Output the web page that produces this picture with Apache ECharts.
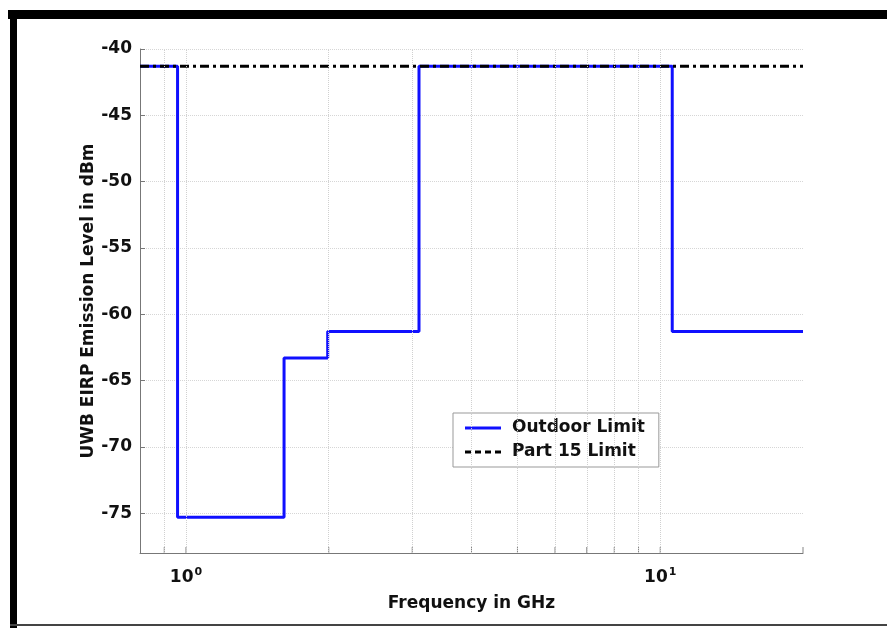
<!DOCTYPE html>
<html>
<head>
<meta charset="utf-8">
<script src="https://cdn.jsdelivr.net/npm/echarts@6/dist/echarts.min.js"></script>
<style>
  html, body { margin: 0; padding: 0; background: #fff; }
  #chart { width: 887px; height: 628px; }
</style>
</head>
<body>
<div id="chart"></div>
<script>
// step edges (GHz) and level of each band (dBm)
const bandEdges = [0.8, 0.96, 1.61, 1.99, 3.1, 10.6, 20]
const outdoorLevels = [-41.3, -75.3, -63.3, -61.3, -41.3, -61.3]
const part15Freq = [0.8, 20]
const part15Level = [-41.3, -41.3]
// log grid positions
const xGridFreqs = [0.9, 1, 2, 3, 4, 5, 6, 7, 8, 9, 10]
const xTickFreqs = [0.9, 1, 2, 3, 4, 5, 6, 7, 8, 9, 10, 20]
const yMin = -78
const yMax = -40

const outdoorData = bandEdges.map((f, i) => [f, outdoorLevels[Math.min(i, outdoorLevels.length - 1)]])
const part15Data = part15Freq.map((f, i) => [f, part15Level[i]])

const FONT = 'DejaVu Sans, Liberation Sans, sans-serif'
const BLUE = '#1010ff'

var chart = echarts.init(document.getElementById('chart'))
var option = {
  animation: false,
  backgroundColor: '#fff',
  textStyle: { fontFamily: FONT },
  grid: { left: 140, right: 84, top: 49, bottom: 75 },
  graphic: [
    { type: 'rect', shape: { x: 8, y: 10, width: 879, height: 9 }, style: { fill: '#000' } },
    { type: 'rect', shape: { x: 10, y: 10, width: 7, height: 618 }, style: { fill: '#000' } },
    { type: 'rect', shape: { x: 10, y: 624, width: 877, height: 2 }, style: { fill: '#444' } }
  ],
  legend: {
    orient: 'vertical',
    left: 453, top: 413,
    padding: [5, 14, 5, 12],
    itemGap: 4,
    itemWidth: 36, itemHeight: 3,
    borderColor: '#999', borderWidth: 1,
    backgroundColor: '#fff',
    data: [
      { name: 'Outdoor Limit', icon: 'path://M0,0H36V3H0Z', itemStyle: { color: BLUE } },
      { name: 'Part 15 Limit', icon: 'path://M0,0H6V3H0Z M10,0H16V3H10Z M20,0H26V3H20Z M30,0H36V3H30Z', itemStyle: { color: '#000' } }
    ],
    textStyle: { fontFamily: FONT, fontSize: 17, fontWeight: 'bold', color: '#111', lineHeight: 20, padding: [0, 0, 0, 6] }
  },
  xAxis: {
    type: 'log', logBase: 10, min: 0.8, max: 20,
    name: 'Frequency in GHz', nameLocation: 'middle', nameGap: 42,
    nameTextStyle: { fontFamily: FONT, fontSize: 17, fontWeight: 'bold', color: '#111' },
    axisLine: { lineStyle: { color: '#777' } },
    axisTick: { show: false },
    splitLine: { show: false },
    axisLabel: {
      margin: 14, color: '#111',
      formatter: function (v) {
        var e = Math.log10(v)
        if (Math.abs(e - Math.round(e)) > 1e-6) return ''
        return '{b|10}{s|' + Math.round(e) + '}'
      },
      rich: {
        b: { fontFamily: FONT, fontSize: 17, fontWeight: 'bold', color: '#111' },
        s: { fontFamily: FONT, fontSize: 11, fontWeight: 'bold', color: '#111', verticalAlign: 'top', padding: [0, 0, 10, 1] }
      }
    }
  },
  yAxis: {
    type: 'value', min: yMin, max: yMax, splitNumber: 8,
    name: 'UWB EIRP Emission Level in dBm', nameLocation: 'middle', nameGap: 43,
    nameMoveOverlap: false,
    nameTextStyle: { fontFamily: FONT, fontSize: 17, fontWeight: 'bold', color: '#111' },
    axisLine: { show: true, lineStyle: { color: '#777' } },
    axisTick: { show: true, inside: true, length: 5, lineStyle: { color: '#777' } },
    axisLabel: { showMinLabel: false, fontFamily: FONT, fontSize: 17, fontWeight: 'bold', color: '#111', margin: 8,
      formatter: function (v) { return v % 5 === 0 ? String(v) : '' } },
    splitLine: { show: true, lineStyle: { color: '#d6d6d6', type: 'dotted' } }
  },
  series: [
    {
      name: 'grid', type: 'line', data: [], silent: true,
      markLine: {
        silent: true, symbol: 'none', label: { show: false },
        lineStyle: { color: '#d0d0d0', type: 'dotted', width: 1 },
        data: xGridFreqs.map(f => ({ xAxis: f }))
      }
    },
    {
      name: 'ticks', type: 'scatter', silent: true,
      symbol: 'rect', symbolSize: [1, 6], symbolOffset: [0, -3],
      itemStyle: { color: '#666' },
      data: xTickFreqs.map(f => [f, yMin])
    },
    {
      name: 'Part 15 Limit', type: 'line', data: part15Data, symbol: 'none',
      lineStyle: { color: '#000', width: 3, type: [9, 4, 3, 4] },
      itemStyle: { color: '#000' }, z: 3
    },
    {
      name: 'Outdoor Limit', type: 'line', step: 'end', data: outdoorData, symbol: 'none',
      lineStyle: { color: BLUE, width: 3 },
      itemStyle: { color: BLUE }, z: 2
    }
  ]
}
chart.setOption(option)
</script>
</body>
</html>
